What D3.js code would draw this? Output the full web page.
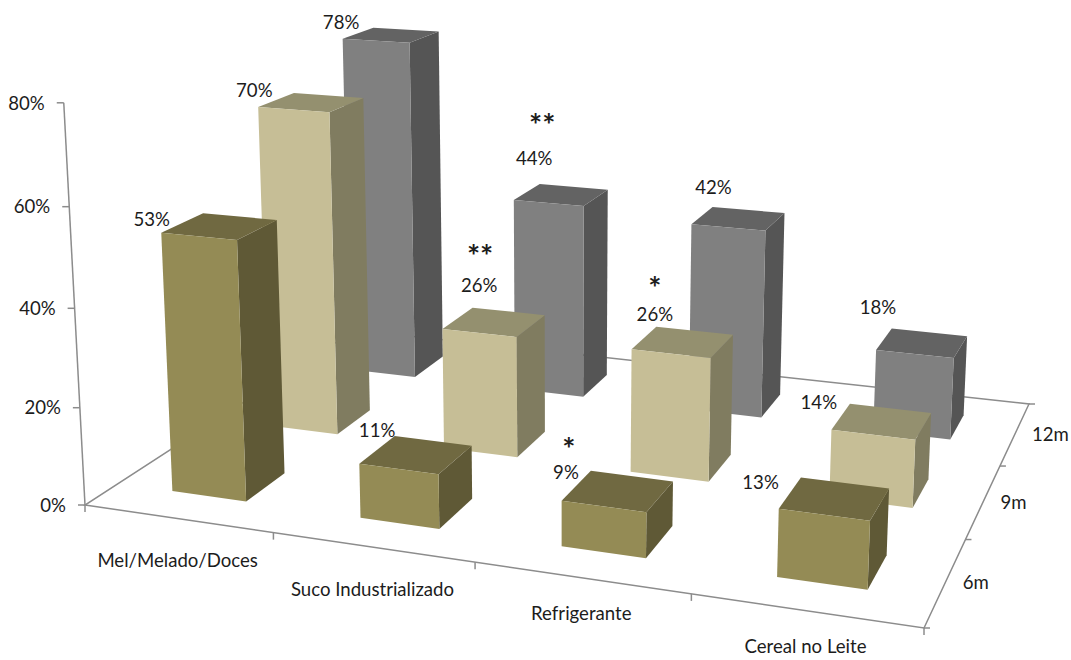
<!DOCTYPE html>
<html lang="pt">
<head>
<meta charset="utf-8">
<script src="https://cdnjs.cloudflare.com/ajax/libs/d3/7.8.5/d3.min.js"></script>
<style>
  html, body { margin: 0; padding: 0; background: #fff; }
  svg { display: block; }
  text { font-family: Lato, "Open Sans", sans-serif; fill: #1c1c1c; }
</style>
</head>
<body>
<svg id="chart" width="1071" height="660"></svg>
<script>
// Chart values
const categories = ["Mel/Melado/Doces", "Suco Industrializado", "Refrigerante", "Cereal no Leite"];
const ages = ["6m", "9m", "12m"];
const values6m = [53, 11, 9, 13];
const values9m = [70, 26, 26, 14];
const values12m = [78, 44, 42, 18];
const stars6m = ["", "", "*", ""];
const stars9m = ["", "**", "*", ""];
const stars12m = ["", "**", "", ""];
const valueTicks = [0, 20, 40, 60, 80];

const seriesValues = [values6m, values9m, values12m];
const seriesStars = [stars6m, stars9m, stars12m];

// Face colours per age group: front, right side, top
const faces = [
  { front: "#948b55", side: "#5f5936", top: "#706941" },
  { front: "#c6be96", side: "#807c60", top: "#94906f" },
  { front: "#808080", side: "#555555", top: "#636363" }
];

// Scene camera: the floor quad on screen, the vanishing point of the uprights,
// and the perspective weight reached at the top of the value axis.
const floorQuad = [[85, 505], [924, 628], [1029, 404], [355, 330]];
const upVanish = [560, 9500];
const topWeight = -0.0428;

const xBand = d3.scaleBand().domain(categories).range([0, 1]).paddingInner(0.6).paddingOuter(0.3);
const zBand = d3.scaleBand().domain(ages).range([0, 1]).paddingInner(0.6).paddingOuter(0.3);
const yScale = d3.scaleLinear().domain([0, 80]).range([0, topWeight]);

const project = (function () {
  const [p0, p1, p2, p3] = floorQuad;
  const dx1 = p1[0] - p2[0], dx2 = p3[0] - p2[0], sx = p0[0] - p1[0] + p2[0] - p3[0];
  const dy1 = p1[1] - p2[1], dy2 = p3[1] - p2[1], sy = p0[1] - p1[1] + p2[1] - p3[1];
  const det = dx1 * dy2 - dx2 * dy1;
  const g = (sx * dy2 - dx2 * sy) / det;
  const h = (dx1 * sy - sx * dy1) / det;
  return function (u, v, val) {
    const k = yScale(val);
    const w = 1 + g * u + h * v + k;
    const X = p0[0] + (p1[0] - p0[0] + g * p1[0]) * u + (p3[0] - p0[0] + h * p3[0]) * v + k * upVanish[0];
    const Y = p0[1] + (p1[1] - p0[1] + g * p1[1]) * u + (p3[1] - p0[1] + h * p3[1]) * v + k * upVanish[1];
    return [X / w, Y / w];
  };
})();

const svg = d3.select("#chart");
const line = d3.line();
const FONT = 18.6;
const STAR_FONT = 31;

// Floor outline and value axis
const axisG = svg.append("g").attr("fill", "none").attr("stroke", "#8c8c8c").attr("stroke-width", 1.5);
axisG.append("path").attr("d", line([project(0, 0, 0), project(1, 0, 0), project(1, 1, 0), project(0, 1, 0)]) + "Z");
axisG.append("path").attr("d", line([project(0, 0, 0), project(0, 0, 80)]));

valueTicks.forEach(t => {
  const [x, y] = project(0, 0, t);
  axisG.append("path").attr("d", line([[x - 7, y], [x, y]]));
  svg.append("text").attr("x", x - 19).attr("y", y + 2)
    .attr("text-anchor", "end").attr("dominant-baseline", "middle")
    .attr("font-size", FONT).text(t + "%");
});

// Category ticks along the front edge
d3.range(0, 5).forEach(i => {
  const [x, y] = project(i / 4, 0, 0);
  axisG.append("path").attr("d", line([[x, y], [x, y + 7]]));
});

// Age ticks along the right edge
d3.range(0, 4).forEach(j => {
  const [x, y] = project(1, j / 3, 0);
  axisG.append("path").attr("d", line([[x, y], [x + 6, y]]));
});

// Category labels step down with the front edge
const categoryDrop = [43.5, 44, 38, 38];
categories.forEach((c, i) => {
  const [x, y] = project(xBand(c) + xBand.bandwidth() / 2, 0, 0);
  svg.append("text").attr("x", x).attr("y", y + categoryDrop[i])
    .attr("text-anchor", "middle").attr("dominant-baseline", "middle")
    .attr("font-size", FONT).text(c);
});

ages.forEach((a, j) => {
  const [x, y] = project(1, zBand(a) + zBand.bandwidth() / 2, 0);
  svg.append("text").attr("x", x + 17).attr("y", y + 3)
    .attr("dominant-baseline", "middle")
    .attr("font-size", FONT).text(a);
});

// One record per bar, back row first so nearer bars paint over farther ones
const bars = [];
for (let j = ages.length - 1; j >= 0; j--) {
  categories.forEach((c, i) => {
    bars.push({ i, j, category: c, age: ages[j], value: seriesValues[j][i], stars: seriesStars[j][i] });
  });
}

const barG = svg.selectAll("g.bar").data(bars).join("g").attr("class", "bar");

function corners(d) {
  const u0 = xBand(d.category), u1 = u0 + xBand.bandwidth();
  const v0 = zBand(d.age), v1 = v0 + zBand.bandwidth();
  return { u0, u1, v0, v1 };
}

barG.append("path")
  .attr("fill", d => faces[d.j].side)
  .attr("d", d => {
    const { u1, v0, v1 } = corners(d);
    return line([project(u1, v0, 0), project(u1, v1, 0), project(u1, v1, d.value), project(u1, v0, d.value)]) + "Z";
  });

barG.append("path")
  .attr("fill", d => faces[d.j].top)
  .attr("d", d => {
    const { u0, u1, v0, v1 } = corners(d);
    return line([project(u0, v0, d.value), project(u1, v0, d.value), project(u1, v1, d.value), project(u0, v1, d.value)]) + "Z";
  });

barG.append("path")
  .attr("fill", d => faces[d.j].front)
  .attr("d", d => {
    const { u0, u1, v0 } = corners(d);
    return line([project(u0, v0, 0), project(u1, v0, 0), project(u1, v0, d.value), project(u0, v0, d.value)]) + "Z";
  });

// Data labels sit up and to the left of each bar's top; offsets by age row, then category
const labelShift = [
  [[-68, -5], [-39, -22], [-52, -17], [-74, -14]],
  [[-57, -10], [-15, -35], [-28, -26], [-63, -17]],
  [[-50, -11], [-27, -35], [-25, -29], [-44, -34]]
];
const starShift = [
  [null, null, [3, -33], null],
  [null, [1, -39], [0, -36], null],
  [null, [8, -43], null, null]
];

const labelG = svg.append("g");
bars.forEach(d => {
  const { u0, u1, v0, v1 } = corners(d);
  const [cx, cy] = project((u0 + u1) / 2, (v0 + v1) / 2, d.value);
  const [dx, dy] = labelShift[d.j][d.i];
  const lx = cx + dx, ly = cy + dy;
  labelG.append("text").attr("x", lx).attr("y", ly)
    .attr("text-anchor", "middle").attr("dominant-baseline", "middle")
    .attr("font-size", FONT).text(d.value + "%");
  if (d.stars) {
    const [sx, sy] = starShift[d.j][d.i];
    labelG.append("text").attr("x", lx + sx).attr("y", ly + sy + STAR_FONT * 0.35)
      .attr("text-anchor", "middle").attr("dominant-baseline", "middle")
      .attr("font-size", STAR_FONT).attr("font-weight", 700).attr("fill", "#000")
      .text(d.stars);
  }
});
</script>
</body>
</html>
